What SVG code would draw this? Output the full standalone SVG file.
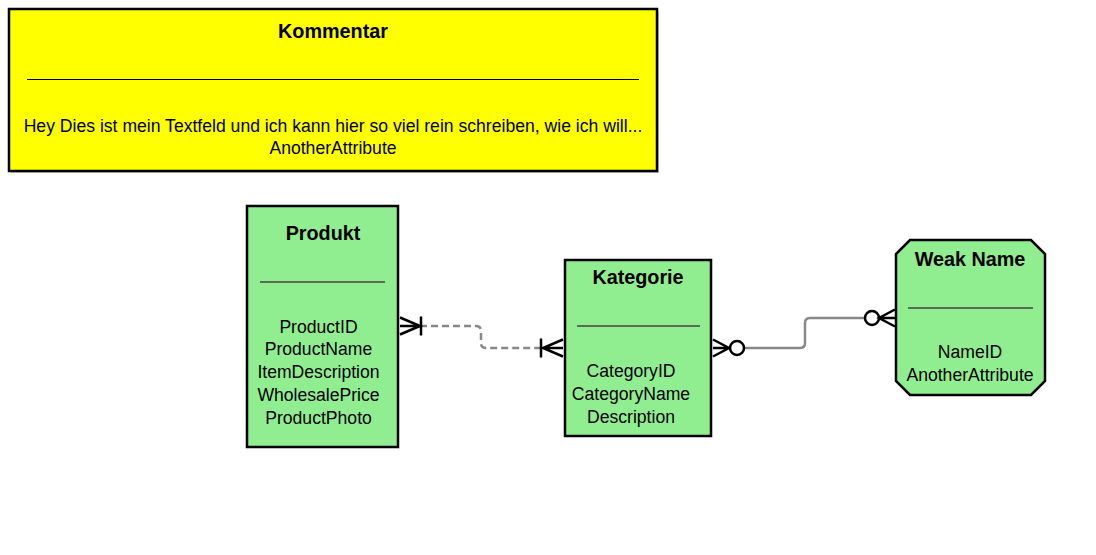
<svg xmlns="http://www.w3.org/2000/svg" width="1096" height="555" viewBox="0 0 1096 555">
<style>
text{font-family:"Liberation Sans",Arial,sans-serif;font-size:17.6px;fill:#000;text-anchor:middle}
.t{font-weight:bold;font-size:19.8px}
.ent{fill:#90EE90;stroke:#000;stroke-width:2.5}
.div{stroke:#444;stroke-width:1.5}
.conn{fill:none;stroke:#888;stroke-width:2.5}
.mk{fill:none;stroke:#000;stroke-width:2.5}
</style>
<rect width="1096" height="555" fill="#fff"/>
<g id="kommentar">
<rect x="11" y="11" width="648" height="162" fill="#ccc"/>
<rect x="9" y="9" width="648" height="162" fill="#FFFF00" stroke="#000" stroke-width="2.5"/>
<text class="t" x="333" y="38">Kommentar</text>
<line x1="27" y1="79.5" x2="639" y2="79.5" stroke="#000" stroke-width="1.2"/>
<text x="333" y="132">Hey Dies ist mein Textfeld und ich kann hier so viel rein schreiben, wie ich will...</text>
<text x="333" y="154">AnotherAttribute</text>
</g>
<g id="produkt">
<rect class="ent" x="247" y="206" width="151" height="241"/>
<text class="t" x="323" y="240">Produkt</text>
<line class="div" x1="260" y1="282" x2="385" y2="282"/>
<text x="318.5" y="333">ProductID</text>
<text x="318.5" y="355">ProductName</text>
<text x="318.5" y="378">ItemDescription</text>
<text x="318.5" y="401">WholesalePrice</text>
<text x="318.5" y="424">ProductPhoto</text>
</g>
<g id="kategorie">
<rect class="ent" x="565" y="260" width="146" height="176"/>
<text class="t" x="638" y="284">Kategorie</text>
<line class="div" x1="577" y1="326" x2="700" y2="326"/>
<text x="631" y="377">CategoryID</text>
<text x="631" y="400">CategoryName</text>
<text x="631" y="423">Description</text>
</g>
<g id="weak">
<path class="ent" d="M910,240 H1031 L1045,254 V381 L1031,395 H910 L896,381 V254 Z"/>
<text class="t" x="970" y="266">Weak Name</text>
<line class="div" x1="908" y1="308" x2="1033" y2="308"/>
<text x="970" y="358">NameID</text>
<text x="970" y="381">AnotherAttribute</text>
</g>
<g id="connectors">
<path class="conn" stroke-dasharray="7,4" d="M420,326 H476 Q481,326 481,331 V343 Q481,348 486,348 H541"/>
<path class="mk" d="M400,317.5 L420,326 L400,334.5 M400,326 H420 M421,316.5 V335.5"/>
<path class="mk" d="M563,339.5 L543,348 L563,356.5 M563,348 H543 M541,338.5 V357.5"/>
<path class="conn" d="M744,348 H800 Q805,348 805,343 V323 Q805,318 810,318 H865"/>
<path class="mk" d="M713,339.5 L729,348 L713,356.5 M713,348 H730"/>
<circle class="mk" cx="737" cy="348" r="7"/>
<path class="mk" d="M895,309.5 L879,318 L895,326.5 M879,318 H895"/>
<circle class="mk" cx="872" cy="318" r="7"/>
</g>
</svg>
